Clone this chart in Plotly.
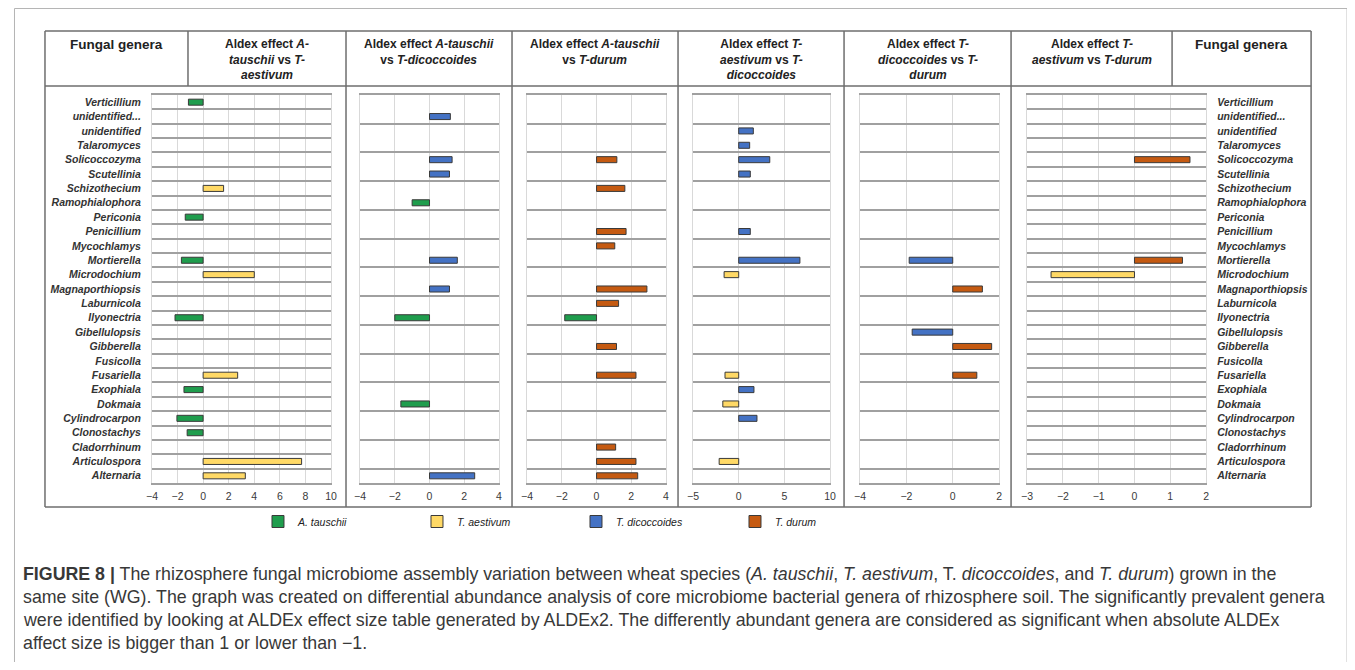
import plotly.graph_objects as go

# ---------------- data ----------------
GENERA = ["Verticillium", "unidentified...", "unidentified", "Talaromyces", "Solicoccozyma",
          "Scutellinia", "Schizothecium", "Ramophialophora", "Periconia", "Penicillium",
          "Mycochlamys", "Mortierella", "Microdochium", "Magnaporthiopsis", "Laburnicola",
          "Ilyonectria", "Gibellulopsis", "Gibberella", "Fusicolla", "Fusariella", "Exophiala",
          "Dokmaia", "Cylindrocarpon", "Clonostachys", "Cladorrhinum", "Articulospora", "Alternaria"]

N = None
# Aldex effect A-tauschii vs T-aestivum
TAU_VS_AES = [-1.15, N, N, N, N, N, 1.6, N, -1.4, N, N, -1.7, 4.0, N, N,
              -2.2, N, N, N, 2.7, -1.5, N, -2.05, -1.25, N, 7.7, 3.3]
# Aldex effect A-tauschii vs T-dicoccoides
TAU_VS_DIC = [N, 1.2, N, N, 1.3, 1.15, N, -1.0, N, N, N, 1.6, N, 1.15, N,
              -2.0, N, N, N, N, N, -1.65, N, N, N, N, 2.6]
# Aldex effect A-tauschii vs T-durum
TAU_VS_DUR = [N, N, N, N, 1.17, N, 1.63, N, N, 1.7, 1.05, N, N, 2.9, 1.27,
              -1.83, N, 1.15, N, 2.27, N, N, N, N, 1.1, 2.27, 2.37]
# Aldex effect T-aestivum vs T-dicoccoides
AES_VS_DIC = [N, N, 1.6, 1.2, 3.4, 1.27, N, N, N, 1.27, N, 6.7, -1.6, N, N,
              N, N, N, N, -1.5, 1.67, -1.74, 2.0, N, N, -2.14, N]
# Aldex effect T-dicoccoides vs T-durum
DIC_VS_DUR = [N, N, N, N, N, N, N, N, N, N, N, -1.88, N, 1.28, N,
              N, -1.75, 1.68, N, 1.04, N, N, N, N, N, N, N]
# Aldex effect T-aestivum vs T-durum
AES_VS_DUR = [N, N, N, N, 1.55, N, N, N, N, N, N, 1.34, -2.33, N, N,
              N, N, N, N, N, N, N, N, N, N, N, N]

SPECIES = ["A. tauschii", "T. aestivum", "T. dicoccoides", "T. durum"]
COLORS = {"A. tauschii": "#1f9d4d", "T. aestivum": "#ffd966",
          "T. dicoccoides": "#4472c4", "T. durum": "#c55a11"}

PANELS = [TAU_VS_AES, TAU_VS_DIC, TAU_VS_DUR, AES_VS_DIC, DIC_VS_DUR, AES_VS_DUR]
PAIRS = [("A. tauschii", "T. aestivum"), ("A. tauschii", "T. dicoccoides"),
         ("A. tauschii", "T. durum"), ("T. aestivum", "T. dicoccoides"),
         ("T. dicoccoides", "T. durum"), ("T. aestivum", "T. durum")]
X_RANGES = [(-4, 10), (-4, 4), (-4, 4), (-5, 10), (-4, 2), (-3, 2)]
X_DTICK = [2, 2, 2, 5, 2, 1]

HEADERS = ["Aldex effect <i>A-</i><br><i>tauschii</i> vs <i>T-</i><br><i>aestivum</i>",
           "Aldex effect <i>A-tauschii</i><br>vs <i>T-dicoccoides</i>",
           "Aldex effect <i>A-tauschii</i><br>vs <i>T-durum</i>",
           "Aldex effect <i>T-</i><br><i>aestivum</i> vs <i>T-</i><br><i>dicoccoides</i>",
           "Aldex effect <i>T-</i><br><i>dicoccoides</i> vs <i>T-</i><br><i>durum</i>",
           "Aldex effect <i>T-</i><br><i>aestivum</i> vs <i>T-durum</i>"]

CAPTION = [
    "<b>FIGURE 8 |</b> The rhizosphere fungal microbiome assembly variation between wheat species "
    "(<i>A. tauschii</i>, <i>T. aestivum</i>, T. <i>dicoccoides</i>, and <i>T. durum</i>) grown in the",
    "same site (WG). The graph was created on differential abundance analysis of core microbiome "
    "bacterial genera of rhizosphere soil. The significantly prevalent genera",
    "were identified by looking at ALDEx effect size table generated by ALDEx2. The differently "
    "abundant genera are considered as significant when absolute ALDEx",
    "affect size is bigger than 1 or lower than \u22121.",
]

# ---------------- layout helpers ----------------
# The page body keeps its default 8px margin, so the figure starts at (8, 8)
# in the 1355x670 window; coordinates below are window pixels.
OFF = 8
W, H = 1355 - OFF, 670 - 2 * OFF
HSCALE = 1 / 0.991   # small horizontal correction observed in the rendered page


def px(x):
    page = 677.5 + (x - 677.5) * HSCALE
    return min(max((page - OFF) / W, 0.5 / W), 1 - 0.5 / W)


def py(y):
    return 1 - (y - OFF) / H


PANEL_PX = [(152, 331), (360, 499), (527, 666), (693, 830), (860, 999), (1027, 1206)]
Y_TOP, Y_BOT = 95, 483
FONT = "Liberation Sans, Arial, sans-serif"
NARROW = "Liberation Sans Narrow, Arial Narrow, Liberation Sans, sans-serif"

fig = go.Figure()
shown = set()
for i, (vals, (neg_sp, pos_sp)) in enumerate(zip(PANELS, PAIRS)):
    ax = "" if i == 0 else str(i + 1)
    for sp, sign in ((neg_sp, -1), (pos_sp, 1)):
        xs = [v if (v is not None and v * sign > 0) else None for v in vals]
        fig.add_trace(go.Bar(
            x=xs, y=GENERA, orientation="h", width=0.42,
            marker=dict(color=COLORS[sp], line=dict(color="#3a3a3a", width=1)),
            name=sp, legendgroup=sp, showlegend=sp not in shown,
            xaxis="x" + ax, yaxis="y" + ax,
        ))
        shown.add(sp)

layout = dict(
    width=W, height=H, margin=dict(l=0, r=0, t=0, b=0),
    paper_bgcolor="white", plot_bgcolor="white",
    barmode="overlay", font=dict(family=FONT, color="#333"),
    legend=dict(orientation="h", x=px(258), y=py(507), xanchor="left", yanchor="top",
                entrywidth=114, entrywidthmode="pixels", traceorder="normal",
                font=dict(family=FONT, size=10.5, style="italic", color="#222"),
                bgcolor="rgba(0,0,0,0)"),
)

for i, ((x0, x1), (r0, r1), dt) in enumerate(zip(PANEL_PX, X_RANGES, X_DTICK)):
    ax = "" if i == 0 else str(i + 1)
    layout["xaxis" + ax] = dict(
        domain=[px(x0), px(x1)], anchor="y" + ax, range=[r0, r1], tick0=r0, dtick=dt,
        showgrid=True, gridcolor="#d9d9d9", gridwidth=1, zeroline=False,
        showline=True, mirror=True, linecolor="#a0a0a0", linewidth=1.6,
        ticks="", fixedrange=True, ticklabelstandoff=3,
        tickfont=dict(family=FONT, size=10.5, color="#3a3a3a"),
    )
    ydict = dict(
        domain=[py(Y_BOT), py(Y_TOP)], anchor="x" + ax, type="category",
        categoryorder="array", categoryarray=GENERA, autorange="reversed",
        tickson="boundaries", showgrid=True, gridcolor="#a0a0a0", gridwidth=1.6,
        showline=True, mirror=True, linecolor="#d9d9d9", linewidth=1,
        ticks="", fixedrange=True, zeroline=False,
        tickfont=dict(family=FONT, size=10.5, weight="bold", style="italic", color="#333"),
        ticklabelstandoff=8,
    )
    if i == 0:
        ydict["showticklabels"] = True
    elif i == 5:
        ydict["showticklabels"] = True
        ydict["side"] = "right"
    else:
        ydict["showticklabels"] = False
    layout["yaxis" + ax] = ydict

# table / frame lines
LINE = dict(color="#6e6e6e", width=1.5)
shapes = []


def hline(y, x0, x1, line=LINE):
    shapes.append(dict(type="line", xref="paper", yref="paper",
                       x0=px(x0), x1=px(x1), y0=py(y), y1=py(y), line=line))


def vline(x, y0, y1, line=LINE):
    shapes.append(dict(type="line", xref="paper", yref="paper",
                       x0=px(x), x1=px(x), y0=py(y0), y1=py(y1), line=line))


FRAME = dict(color="#b5b5b5", width=1)
hline(8.5, 8.5, 1347, FRAME)
vline(8.5, 8.5, 662, FRAME)
vline(1347, 8.5, 662, FRAME)

TBL_L, TBL_R, TBL_T, TBL_B, HDR_B = 45, 1311, 31, 507, 86
hline(TBL_T, TBL_L, TBL_R)
hline(TBL_B, TBL_L, TBL_R)
hline(HDR_B, TBL_L, TBL_R)
vline(TBL_L, TBL_T, TBL_B)
vline(TBL_R, TBL_T, TBL_B)
for xv in (346, 512, 678, 844, 1011):
    vline(xv, TBL_T, TBL_B)
vline(188, TBL_T, HDR_B)
vline(1172, TBL_T, HDR_B)
layout["shapes"] = shapes

annotations = []
HDR_CX = [267, 429, 595, 761, 927.5, 1091.5]
for cx, txt in zip(HDR_CX, HEADERS):
    annotations.append(dict(text="<b>" + txt + "</b>", x=px(cx), y=py(35), xref="paper", yref="paper",
                            xanchor="center", yanchor="top", showarrow=False, align="center",
                            font=dict(family=NARROW, size=12, color="#222")))
for cx in (116.5, 1241.5):
    annotations.append(dict(text="<b>Fungal genera</b>", x=px(cx), y=py(35), xref="paper", yref="paper",
                            xanchor="center", yanchor="top", showarrow=False,
                            font=dict(family=FONT, size=13.5, color="#222")))
for k, line in enumerate(CAPTION):
    annotations.append(dict(text=line, x=px(21), y=py(574 + 23 * k), xref="paper", yref="paper",
                            xanchor="left", yanchor="middle", showarrow=False, align="left",
                            font=dict(family=FONT, size=17.8, color="#383838")))
layout["annotations"] = annotations

fig.update_layout(**layout)
fig.write_html("out.html")
